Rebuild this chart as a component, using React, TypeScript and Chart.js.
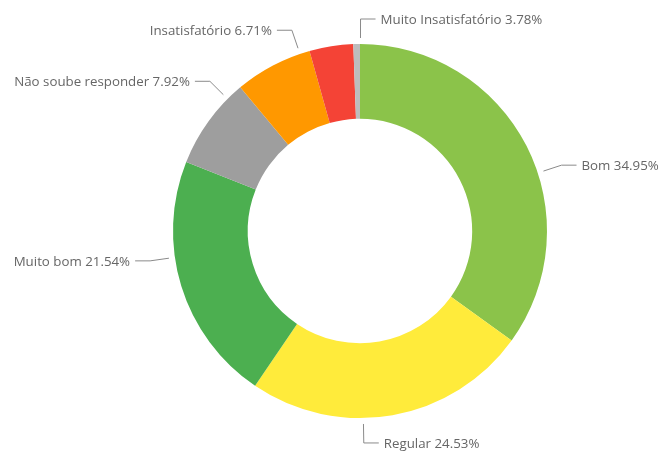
import React, { useEffect, useRef } from "react";
import { Chart, registerables } from "chart.js";

Chart.register(...registerables);

const categories = [
  "Bom",
  "Regular",
  "Muito bom",
  "Não soube responder",
  "Insatisfatório",
  "Muito Insatisfatório",
  "",
];
const values = [34.95, 24.53, 21.54, 7.92, 6.71, 3.78, 0.57];
const colors = [
  "#8BC34A",
  "#FFEB3B",
  "#4CAF50",
  "#9E9E9E",
  "#FF9800",
  "#F44336",
  "#BDBDBD",
];

const labelPlugin = {
  id: "outerLabels",
  afterDatasetsDraw(chart: any) {
    const ctx = chart.ctx;
    const meta = chart.getDatasetMeta(0);
    const angleShift = (9 * Math.PI) / 180;
    ctx.save();
    ctx.font = "13.3px 'Open Sans', 'Segoe UI', sans-serif";
    ctx.textBaseline = "middle";
    meta.data.forEach((arc: any, i: number) => {
      const name = categories[i];
      if (!name) return;
      const { x, y, startAngle, endAngle, outerRadius } = arc.getProps(
        ["x", "y", "startAngle", "endAngle", "outerRadius"],
        true
      );
      const a = (startAngle + endAngle) / 2 + angleShift;
      const r1 = outerRadius + 6;
      const r2 = outerRadius + 25;
      const ax = x + r1 * Math.cos(a);
      const ay = y + r1 * Math.sin(a);
      const ex = x + r2 * Math.cos(a);
      const ey = y + r2 * Math.sin(a);
      const right = Math.cos(a) >= -0.001;
      const hx = ex + (right ? 15 : -15);
      ctx.strokeStyle = "#8a8a8a";
      ctx.lineWidth = 1;
      ctx.beginPath();
      ctx.moveTo(ax, ay);
      ctx.lineTo(ex, ey);
      ctx.lineTo(hx, ey);
      ctx.stroke();
      ctx.fillStyle = "#666666";
      ctx.textAlign = right ? "left" : "right";
      const text = `${name} ${values[i].toFixed(2)}%`;
      ctx.fillText(text, hx + (right ? 5 : -5), ey + 1);
    });
    ctx.restore();
  },
};

export default function App() {
  const canvasRef = useRef<HTMLCanvasElement | null>(null);

  useEffect(() => {
    document.body.style.margin = "0";
    const canvas = canvasRef.current;
    if (!canvas) return;
    const chart = new Chart(canvas, {
      type: "doughnut",
      data: {
        labels: categories,
        datasets: [
          {
            data: values,
            backgroundColor: colors,
            borderWidth: 0,
            hoverOffset: 0,
          },
        ],
      },
      options: {
        animation: false,
        responsive: false,
        maintainAspectRatio: false,
        cutout: "60%",
        layout: { padding: { top: 44, bottom: 33, left: 173, right: 115 } },
        plugins: {
          legend: { display: false },
          tooltip: { enabled: false },
        },
      },
      plugins: [labelPlugin],
    });
    return () => chart.destroy();
  }, []);

  return (
    <div style={{ width: 662, height: 451, position: "relative", background: "#fff" }}>
      <canvas ref={canvasRef} width={662} height={451} style={{ display: "block" }} />
    </div>
  );
}
